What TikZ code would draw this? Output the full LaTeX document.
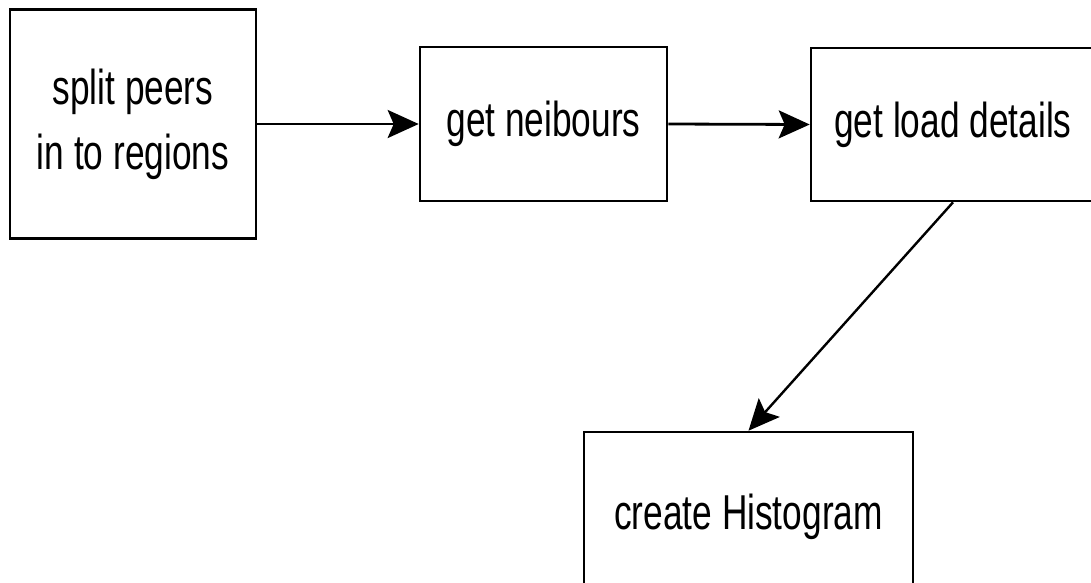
\documentclass[tikz,border=0pt]{standalone}
\usepackage{fontspec}
\setmainfont{Liberation Sans}[FakeStretch=0.72]
\usetikzlibrary{arrows.meta}
\tikzset{
  stepbox/.style={draw, line width=2.6pt, inner sep=0pt, align=center,
    font=\fontsize{49}{65}\selectfont},
  flow/.style={line width=2.8pt, -{Stealth[length=31pt, width=28pt, inset=6pt]}}
}
\begin{document}
\begin{tikzpicture}[x=1pt, y=-1pt]
  \useasboundingbox (0,0) rectangle (1091,582);
  \clip (0,0) rectangle (1091,582);
  \node[stepbox, minimum width=246pt, minimum height=229pt] (split) at (133,124)
    {split peers\\in to regions};
  \node[stepbox, minimum width=247pt, minimum height=154pt] (neigh) at (543.5,124)
    {get neibours};
  \node[stepbox, minimum width=284pt, minimum height=153pt] (load) at (953,124.5)
    {get load details};
  \node[stepbox, minimum width=329pt, minimum height=170pt] (hist) at (748.5,517)
    {create Histogram};
  \draw[flow] (split.east) -- (neigh.west);
  \draw[flow] (neigh.east) -- (load.west);
  \draw[flow, line width=2.4pt] (load.south) -- (hist.north);
\end{tikzpicture}
\end{document}
